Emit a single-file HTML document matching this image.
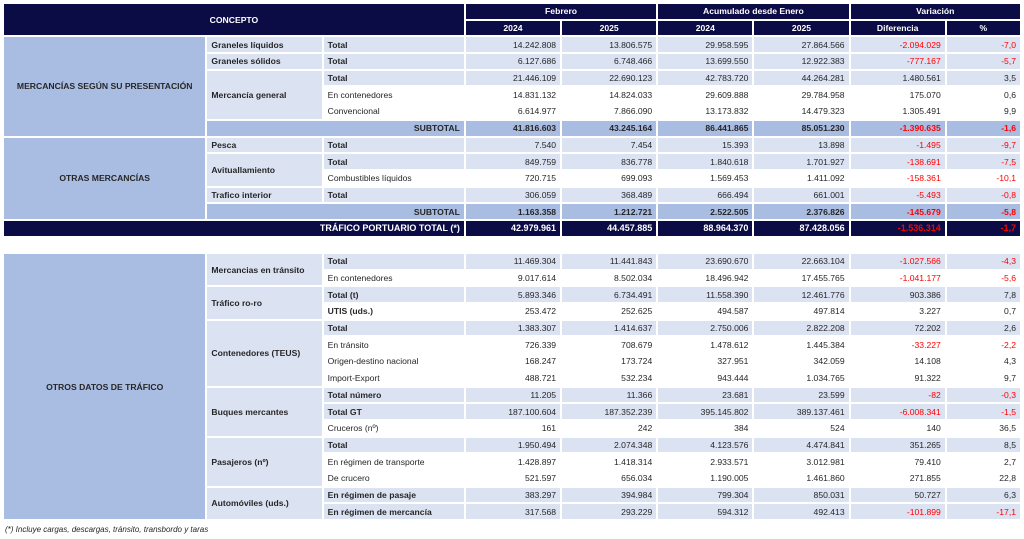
<!DOCTYPE html>
<html><head><meta charset="utf-8"><style>
body{margin:0;width:1024px;height:539px;background:#fff;position:relative;overflow:hidden;font-family:"Liberation Sans",Arial,sans-serif;font-size:8.6px;color:#262626}
table{position:absolute;left:2px;width:1020px;border-collapse:separate;border-spacing:2px;table-layout:fixed}
td{height:14.7px;padding:0 4px;white-space:nowrap;overflow:hidden;line-height:14px}
.h{background:#0b0b45;color:#fff;font-weight:bold;text-align:center}
tr.l td{background:#dbe2f2}
tr.w td{background:#fff}
tr.l td.k,tr.w td.k.b{font-weight:bold}
td.n{text-align:right}
.r{color:#f00}
tr.st td{background:#a9bde2;font-weight:bold}
tr.tt td{background:#0b0b45;color:#fff;font-weight:bold;font-size:9px}
tr.tt td.r{color:#f00}
td.g1{background:#a9bde2 !important;font-weight:bold;text-align:center}
td.g2{background:#dbe2f2 !important;font-weight:bold}
.foot{position:absolute;left:5px;top:525px;font-style:italic;font-size:8px}
</style></head><body>
<table style="top:2px">
<colgroup><col style="width:201px"><col style="width:114px"><col style="width:140px"><col style="width:94px"><col style="width:94px"><col style="width:94px"><col style="width:94px"><col style="width:94px"><col style="width:73px"></colgroup>
<tr><td class="h" colspan="3" rowspan="2">CONCEPTO</td><td class="h" colspan="2">Febrero</td><td class="h" colspan="2">Acumulado desde Enero</td><td class="h" colspan="2">Variación</td></tr>
<tr><td class="h">2024</td><td class="h">2025</td><td class="h">2024</td><td class="h">2025</td><td class="h">Diferencia</td><td class="h">%</td></tr>
<tr class="l"><td class="g1" rowspan="6">MERCANCÍAS SEGÚN SU PRESENTACIÓN</td><td class="g2">Graneles líquidos</td><td class="k">Total</td><td class="n">14.242.808</td><td class="n">13.806.575</td><td class="n">29.958.595</td><td class="n">27.864.566</td><td class="n r">-2.094.029</td><td class="n r">-7,0</td></tr>
<tr class="l"><td class="g2">Graneles sólidos</td><td class="k">Total</td><td class="n">6.127.686</td><td class="n">6.748.466</td><td class="n">13.699.550</td><td class="n">12.922.383</td><td class="n r">-777.167</td><td class="n r">-5,7</td></tr>
<tr class="l"><td class="g2" rowspan="3">Mercancía general</td><td class="k">Total</td><td class="n">21.446.109</td><td class="n">22.690.123</td><td class="n">42.783.720</td><td class="n">44.264.281</td><td class="n">1.480.561</td><td class="n">3,5</td></tr>
<tr class="w"><td>En contenedores</td><td class="n">14.831.132</td><td class="n">14.824.033</td><td class="n">29.609.888</td><td class="n">29.784.958</td><td class="n">175.070</td><td class="n">0,6</td></tr>
<tr class="w"><td>Convencional</td><td class="n">6.614.977</td><td class="n">7.866.090</td><td class="n">13.173.832</td><td class="n">14.479.323</td><td class="n">1.305.491</td><td class="n">9,9</td></tr>
<tr class="st"><td colspan="2" class="n">SUBTOTAL</td><td class="n">41.816.603</td><td class="n">43.245.164</td><td class="n">86.441.865</td><td class="n">85.051.230</td><td class="n r">-1.390.635</td><td class="n r">-1,6</td></tr>
<tr class="l"><td class="g1" rowspan="5">OTRAS MERCANCÍAS</td><td class="g2">Pesca</td><td class="k">Total</td><td class="n">7.540</td><td class="n">7.454</td><td class="n">15.393</td><td class="n">13.898</td><td class="n r">-1.495</td><td class="n r">-9,7</td></tr>
<tr class="l"><td class="g2" rowspan="2">Avituallamiento</td><td class="k">Total</td><td class="n">849.759</td><td class="n">836.778</td><td class="n">1.840.618</td><td class="n">1.701.927</td><td class="n r">-138.691</td><td class="n r">-7,5</td></tr>
<tr class="w"><td>Combustibles líquidos</td><td class="n">720.715</td><td class="n">699.093</td><td class="n">1.569.453</td><td class="n">1.411.092</td><td class="n r">-158.361</td><td class="n r">-10,1</td></tr>
<tr class="l"><td class="g2">Trafico interior</td><td class="k">Total</td><td class="n">306.059</td><td class="n">368.489</td><td class="n">666.494</td><td class="n">661.001</td><td class="n r">-5.493</td><td class="n r">-0,8</td></tr>
<tr class="st"><td colspan="2" class="n">SUBTOTAL</td><td class="n">1.163.358</td><td class="n">1.212.721</td><td class="n">2.522.505</td><td class="n">2.376.826</td><td class="n r">-145.679</td><td class="n r">-5,8</td></tr>
<tr class="tt"><td colspan="3" class="n">TRÁFICO PORTUARIO TOTAL (*)</td><td class="n">42.979.961</td><td class="n">44.457.885</td><td class="n">88.964.370</td><td class="n">87.428.056</td><td class="n r">-1.536.314</td><td class="n r">-1,7</td></tr>
</table>

<table style="top:252px">
<colgroup><col style="width:201px"><col style="width:114px"><col style="width:140px"><col style="width:94px"><col style="width:94px"><col style="width:94px"><col style="width:94px"><col style="width:94px"><col style="width:73px"></colgroup>
<tr class="l"><td class="g1" rowspan="16">OTROS DATOS DE TRÁFICO</td><td class="g2" rowspan="2">Mercancias en tránsito</td><td class="k">Total</td><td class="n">11.469.304</td><td class="n">11.441.843</td><td class="n">23.690.670</td><td class="n">22.663.104</td><td class="n r">-1.027.566</td><td class="n r">-4,3</td></tr>
<tr class="w"><td>En contenedores</td><td class="n">9.017.614</td><td class="n">8.502.034</td><td class="n">18.496.942</td><td class="n">17.455.765</td><td class="n r">-1.041.177</td><td class="n r">-5,6</td></tr>
<tr class="l"><td class="g2" rowspan="2">Tráfico ro-ro</td><td class="k">Total (t)</td><td class="n">5.893.346</td><td class="n">6.734.491</td><td class="n">11.558.390</td><td class="n">12.461.776</td><td class="n">903.386</td><td class="n">7,8</td></tr>
<tr class="w"><td class="k b">UTIS (uds.)</td><td class="n">253.472</td><td class="n">252.625</td><td class="n">494.587</td><td class="n">497.814</td><td class="n">3.227</td><td class="n">0,7</td></tr>
<tr class="l"><td class="g2" rowspan="4">Contenedores (TEUS)</td><td class="k">Total</td><td class="n">1.383.307</td><td class="n">1.414.637</td><td class="n">2.750.006</td><td class="n">2.822.208</td><td class="n">72.202</td><td class="n">2,6</td></tr>
<tr class="w"><td>En tránsito</td><td class="n">726.339</td><td class="n">708.679</td><td class="n">1.478.612</td><td class="n">1.445.384</td><td class="n r">-33.227</td><td class="n r">-2,2</td></tr>
<tr class="w"><td>Origen-destino nacional</td><td class="n">168.247</td><td class="n">173.724</td><td class="n">327.951</td><td class="n">342.059</td><td class="n">14.108</td><td class="n">4,3</td></tr>
<tr class="w"><td>Import-Export</td><td class="n">488.721</td><td class="n">532.234</td><td class="n">943.444</td><td class="n">1.034.765</td><td class="n">91.322</td><td class="n">9,7</td></tr>
<tr class="l"><td class="g2" rowspan="3">Buques mercantes</td><td class="k">Total número</td><td class="n">11.205</td><td class="n">11.366</td><td class="n">23.681</td><td class="n">23.599</td><td class="n r">-82</td><td class="n r">-0,3</td></tr>
<tr class="l"><td class="k">Total GT</td><td class="n">187.100.604</td><td class="n">187.352.239</td><td class="n">395.145.802</td><td class="n">389.137.461</td><td class="n r">-6.008.341</td><td class="n r">-1,5</td></tr>
<tr class="w"><td>Cruceros (nº)</td><td class="n">161</td><td class="n">242</td><td class="n">384</td><td class="n">524</td><td class="n">140</td><td class="n">36,5</td></tr>
<tr class="l"><td class="g2" rowspan="3">Pasajeros (nº)</td><td class="k">Total</td><td class="n">1.950.494</td><td class="n">2.074.348</td><td class="n">4.123.576</td><td class="n">4.474.841</td><td class="n">351.265</td><td class="n">8,5</td></tr>
<tr class="w"><td>En régimen de transporte</td><td class="n">1.428.897</td><td class="n">1.418.314</td><td class="n">2.933.571</td><td class="n">3.012.981</td><td class="n">79.410</td><td class="n">2,7</td></tr>
<tr class="w"><td>De crucero</td><td class="n">521.597</td><td class="n">656.034</td><td class="n">1.190.005</td><td class="n">1.461.860</td><td class="n">271.855</td><td class="n">22,8</td></tr>
<tr class="l"><td class="g2" rowspan="2">Automóviles (uds.)</td><td class="k">En régimen de pasaje</td><td class="n">383.297</td><td class="n">394.984</td><td class="n">799.304</td><td class="n">850.031</td><td class="n">50.727</td><td class="n">6,3</td></tr>
<tr class="l"><td class="k">En régimen de mercancía</td><td class="n">317.568</td><td class="n">293.229</td><td class="n">594.312</td><td class="n">492.413</td><td class="n r">-101.899</td><td class="n r">-17,1</td></tr>
</table>
<div class="foot">(*) Incluye cargas, descargas, tránsito, transbordo y taras</div>
</body></html>
